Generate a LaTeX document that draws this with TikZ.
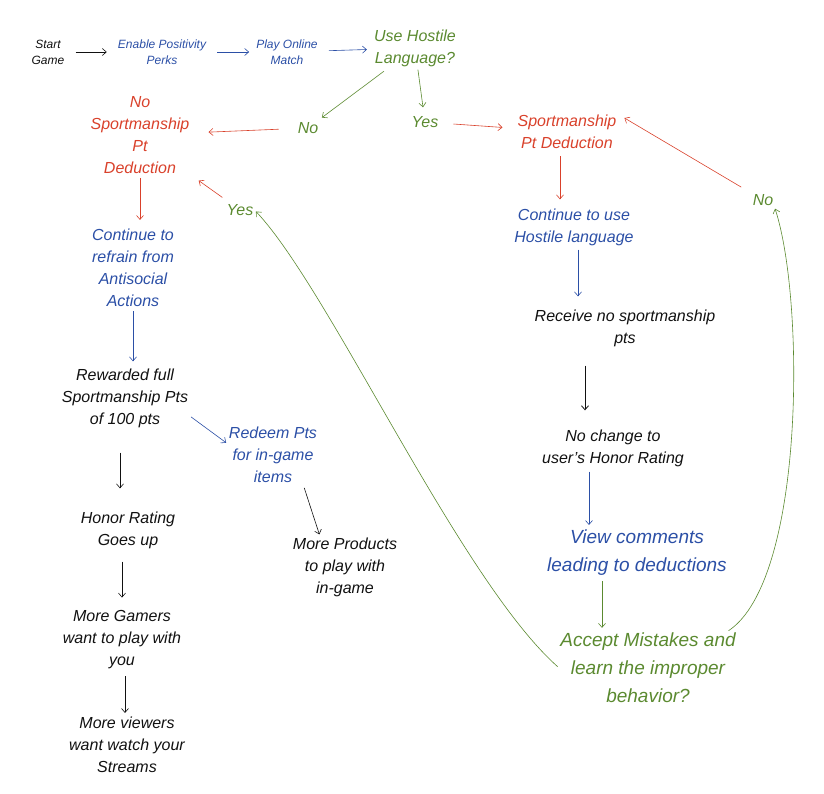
\documentclass[tikz,border=0pt]{standalone}
\usepackage{fontspec}
\setmainfont{Liberation Sans}
\usepackage{xcolor}
\usepackage{tikz}
\usetikzlibrary{positioning, arrows.meta}

\definecolor{inkblack}{HTML}{111111}
\definecolor{inkblue}{HTML}{2B4FA6}
\definecolor{inkred}{HTML}{D9412B}
\definecolor{inkgreen}{HTML}{5B8A30}

\begin{document}
\begin{tikzpicture}[
        x=1pt, y=-1pt,
        % Define common styles for the nodes and text
        note/.style={align=center, font=\itshape\fontsize{16}{22}\selectfont, inner sep=1pt},
        small/.style={note, font=\itshape\fontsize{12}{16}\selectfont},
        big/.style={note, font=\itshape\fontsize{19}{28}\selectfont},
        arrow/.style={-{Straight Barb[length=4pt, width=7pt]}, semithick, shorten >=6pt, shorten <=6pt}
    ]
    \useasboundingbox (0,0) rectangle (824,794);

        % Define the nodes
        \node[small, text=inkblack] (start) at (48,52) {Start\\Game};
        \node[small, text=inkblue] (perks) at (162,52) {Enable Positivity\\Perks};
        \node[small, text=inkblue] (match) at (287,52) {Play Online\\Match};
        \node[note, text=inkgreen] (hostile) at (415,48) {Use Hostile\\Language?};

        \node[note, text=inkgreen] (no) at (308,128) {No};
        \node[note, text=inkgreen] (yes) at (425,122) {Yes};

        \node[note, text=inkred] (nodeduct) at (140,135) {No\\Sportmanship\\Pt\\Deduction};
        \node[note, text=inkred] (deduct) at (567,132) {Sportmanship\\Pt Deduction};

        \node[note, text=inkgreen] (yes2) at (240,210) {Yes};
        \node[note, text=inkgreen] (no2) at (763,200) {No};

        \node[note, text=inkblue] (refrain) at (133,268) {Continue to\\refrain from\\Antisocial\\Actions};
        \node[note, text=inkblue] (keepon) at (574,227) {Continue to use\\Hostile language};

        \node[note, text=inkblack] (receive) at (625,328) {Receive no sportmanship\\pts};
        \node[note, text=inkblack] (rewarded) at (125,398) {Rewarded full\\Sportmanship Pts\\of 100 pts};
        \node[note, text=inkblue] (redeem) at (273,455) {Redeem Pts\\for in-game\\items};
        \node[note, text=inkblack] (nochange) at (613,448) {No change to\\user's Honor Rating};

        \node[note, text=inkblack] (honor) at (128,530) {Honor Rating\\Goes up};
        \node[note, text=inkblack] (products) at (345,567) {More Products\\to play with\\in-game};
        \node[big, text=inkblue] (view) at (637,553) {View comments\\leading to deductions};

        \node[note, text=inkblack] (gamers) at (122,640) {More Gamers\\want to play with\\you};
        \node[big, text=inkgreen] (accept) at (648,668) {Accept Mistakes and\\learn the improper\\behavior?};
        \node[note, text=inkblack] (viewers) at (127,745) {More viewers\\want watch your\\Streams};

        % Draw the arrows
        \draw[arrow, inkblack, shorten <=10pt, shorten >=10pt] (start) -- (perks);
        \draw[arrow, inkblue, shorten <=10pt] (perks) -- (match);
        \draw[arrow, inkblue, shorten <=10pt] (match) -- (hostile);
        \draw[arrow, inkgreen] (hostile) -- (no);
        \draw[arrow, inkgreen, shorten <=2pt, shorten >=8pt] (hostile) -- (yes);
        \draw[arrow, inkred, shorten <=18pt, shorten >=18pt] (no) -- (nodeduct);
        \draw[arrow, inkred, shorten <=14pt, shorten >=14pt] (yes) -- (deduct);

        \draw[arrow, inkred, shorten <=3pt, shorten >=8pt] (nodeduct.south) -- (nodeduct.south |- refrain.north);
        \draw[arrow, inkblue, shorten <=3pt] (refrain.south) -- (refrain.south |- rewarded.north);
        \draw[arrow, inkblack, shorten <=24pt, shorten >=22pt] ([xshift=-5pt]rewarded.south) -- ([xshift=-8pt]honor.north);
        \draw[arrow, inkblue, shorten <=2pt, shorten >=2pt] ([yshift=13pt]rewarded.south east) -- ([yshift=-18pt]redeem.north west);
        \draw[arrow, inkblack, shorten <=4pt, shorten >=2pt] ([xshift=30pt]redeem.south) -- ([xshift=-25pt]products.north);
        \draw[arrow, inkblack, shorten <=12pt, shorten >=12pt] (gamers.north |- honor.south) -- (gamers.north);
        \draw[arrow, inkblack, shorten >=3pt] ([xshift=3pt]gamers.south) -- ([xshift=-2pt]viewers.north);

        \draw[arrow, inkred, shorten >=8pt] ([xshift=-7pt]deduct.south) -- ([xshift=-7pt]deduct.south |- keepon.north);
        \draw[arrow, inkblue, shorten <=3pt, shorten >=12pt] ([xshift=4pt]keepon.south) -- ([xshift=-47pt]receive.north);
        \draw[arrow, inkblack, thick, shorten <=18pt, shorten >=18pt] ([xshift=-40pt]receive.south) -- ([xshift=-28pt]nochange.north);
        \draw[arrow, inkblue, shorten <=4pt, shorten >=4pt] ([xshift=-24pt]nochange.south) -- ([xshift=-48pt]view.north);
        \draw[arrow, inkgreen, shorten <=4pt, shorten >=4pt] ([xshift=-35pt]view.south) -- ([xshift=-46pt]accept.north);

        % loops back from the question
        \draw[arrow, inkgreen, shorten <=2pt, shorten >=2pt] (accept.west) .. controls (460,580) and (330,290) .. (yes2.east);
        \draw[arrow, inkred, shorten <=10pt, shorten >=10pt] (yes2) -- (nodeduct.south east);
        \draw[arrow, inkgreen, shorten <=2pt, shorten >=2pt] ([xshift=-10pt]accept.north east) .. controls (805,580) and (805,300) .. (no2.south east);
        \draw[arrow, inkred, shorten <=12pt, shorten >=8pt] (no2) -- (deduct.north east);

    \end{tikzpicture}
\end{document}
